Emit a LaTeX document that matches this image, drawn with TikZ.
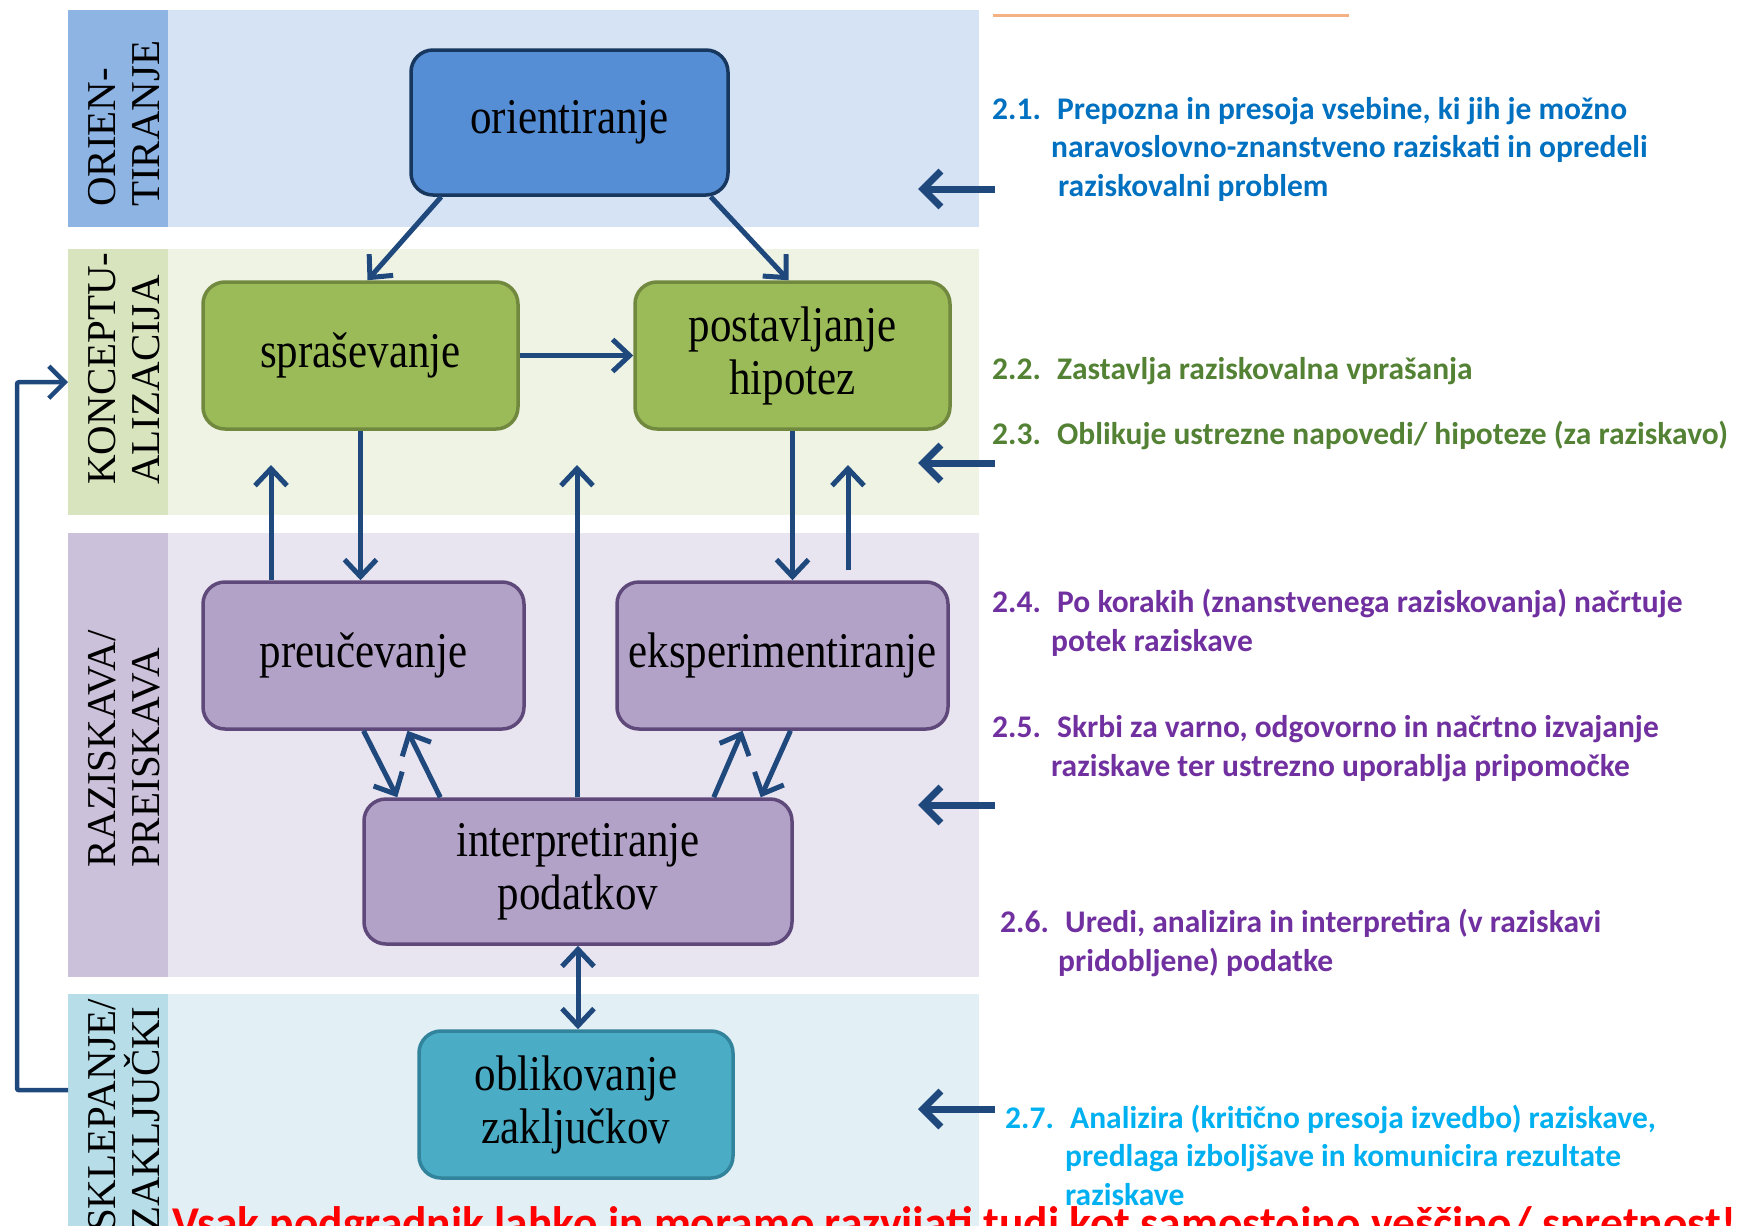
\documentclass[tikz,border=0pt]{standalone}
\usepackage{fontspec}
\setmainfont{Liberation Serif}
\newfontfamily\okvirfont[FakeStretch=0.86]{Liberation Serif}
\newfontfamily\ciljfont{Carlito}
\usetikzlibrary{arrows.meta,calc}

\definecolor{puscica}{HTML}{1F497D}
\definecolor{oriTrak}{HTML}{8EB4E3}
\definecolor{oriPas}{HTML}{D6E3F4}
\definecolor{konTrak}{HTML}{D7E4BD}
\definecolor{konPas}{HTML}{EEF3E4}
\definecolor{razTrak}{HTML}{CCC1DA}
\definecolor{razPas}{HTML}{E8E4F0}
\definecolor{sklTrak}{HTML}{B7DDE8}
\definecolor{sklPas}{HTML}{E2F0F5}
\definecolor{modraPolna}{HTML}{558ED5}
\definecolor{modraRob}{HTML}{17375E}
\definecolor{zelenaPolna}{HTML}{9BBB59}
\definecolor{zelenaRob}{HTML}{71893F}
\definecolor{vijolPolna}{HTML}{B3A2C7}
\definecolor{vijolRob}{HTML}{5F497A}
\definecolor{turkPolna}{HTML}{4BACC6}
\definecolor{turkRob}{HTML}{31849B}
\definecolor{cModra}{HTML}{0070C0}
\definecolor{cZelena}{HTML}{548235}
\definecolor{cVijol}{HTML}{7030A0}
\definecolor{cSvetla}{HTML}{00B0F0}
\definecolor{rdeca}{HTML}{FF0000}
\definecolor{oranzna}{HTML}{F4B183}

\tikzset{
  okvir/.style={draw, rounded corners=22pt, line width=3.5pt, align=center,
    inner sep=0pt, font=\okvirfont\fontsize{50}{53}\selectfont},
  modri/.style={fill=modraPolna, draw=modraRob},
  zeleni/.style={fill=zelenaPolna, draw=zelenaRob},
  vijolicni/.style={fill=vijolPolna, draw=vijolRob},
  turkizni/.style={fill=turkPolna, draw=turkRob},
  trak/.style={inner sep=0pt, minimum width=100pt, anchor=north west},
  oznaka/.style={rotate=90, anchor=base west, align=left, inner sep=0pt,
    font=\fontsize{41}{44}\selectfont},
  pot/.style={draw=puscica, line width=5pt,
    -{Straight Barb[length=17pt,width=32pt]}},
  vhod/.style={draw=puscica, line width=7pt,
    -{Straight Barb[length=18pt,width=36pt]}},
  povratna/.style={draw=puscica, line width=4.5pt, rounded corners=2pt,
    -{Straight Barb[length=16pt,width=32pt]}},
  cilj/.style={anchor=base west, align=left, inner sep=0pt,
    font=\ciljfont\bfseries\fontsize{31.5}{38.5}\selectfont},
}

\begin{document}
\begin{tikzpicture}[x=1pt,y=-1pt]
\useasboundingbox (0,0) rectangle (1743,1226);
\clip (0,0) rectangle (1743,1226);

% Pasovi
\fill[oriPas] (168,10) rectangle (979,227);
\fill[konPas] (168,249) rectangle (979,515);
\fill[razPas] (168,533) rectangle (979,977);
\fill[sklPas] (168,994) rectangle (979,1240);

% Trakovi
\node[trak, fill=oriTrak, minimum height=217pt] (trakOri) at (68,10) {};
\node[trak, fill=konTrak, minimum height=266pt] (trakKon) at (68,249) {};
\node[trak, fill=razTrak, minimum height=444pt] (trakRaz) at (68,533) {};
\node[trak, fill=sklTrak, minimum height=246pt] (trakSkl) at (68,994) {};

% Oznake faz (sidro na zadnji vrstici)
\node[oznaka] (lblOri) at (159,207) {ORIEN-\\TIRANJE};
\node[oznaka] (lblKon) at (159,485) {KONCEPTU-\\ALIZACIJA};
\node[oznaka] (lblRaz) at (159,868) {RAZISKAVA/\\PREISKAVA};
\node[oznaka] (lblSkl) at (159,1232) {SKLEPANJE/\\ZAKLJUČKI};

% Zgornja crta
\draw[oranzna, line width=3pt] (993,15) -- (1349,15);

% Koraki
\node[okvir, modri, minimum width=317pt, minimum height=145pt]
  (orient) at (569.5,122.5) {orientiranje};
\node[okvir, zeleni, minimum width=315pt, minimum height=147pt]
  (spras) at (360.5,355.5) {spraševanje};
\node[okvir, zeleni, minimum width=315pt, minimum height=147pt]
  (post) at (792.5,355.5) {postavljanje\\hipotez};
\node[okvir, vijolicni, minimum width=321pt, minimum height=147pt]
  (preuc) at (363.5,655.5) {preučevanje};
\node[okvir, vijolicni, minimum width=331pt, minimum height=147pt]
  (eksper) at (782.5,655.5) {eksperimentiranje};
\node[okvir, vijolicni, minimum width=428pt, minimum height=145pt]
  (interp) at (578,871.5) {interpretiranje\\podatkov};
\node[okvir, turkizni, minimum width=314pt, minimum height=147pt]
  (oblik) at (576,1104.5) {oblikovanje\\zaključkov};

% Povezave
\draw[pot] ($(orient.south west)+(32,0)$) -- ($(spras.north)+(7,0)$);
\draw[pot] ($(orient.south east)+(-19,0)$) -- ($(post.north)+(-4,0)$);
\draw[pot] (spras.east) -- (post.west);
\draw[pot] (spras.south) -- (spras.south |- preuc.north);
\draw[pot] (post.south) -- (post.south |- eksper.north);
\draw[pot] (preuc.south) -- ($(interp.north west)+(35,0)$);
\draw[pot] ($(interp.north west)+(78,0)$) -- ($(preuc.south)+(44,0)$);
\draw[pot] ($(interp.north east)+(-80,0)$) -- ($(eksper.south)+(-40,0)$);
\draw[pot] ($(eksper.south)+(8,0)$) -- ($(interp.north east)+(-33,0)$);
\draw[pot, {Straight Barb[length=17pt,width=32pt]}-{Straight Barb[length=17pt,width=32pt]}]
  (interp.south) -- (interp.south |- oblik.north);

% Puscice navzgor
\coordinate (gorA) at (271,465);
\coordinate (gorB) at (577,465);
\coordinate (gorC) at (848,465);
\draw[pot] (gorA |- preuc.north) -- (gorA);
\draw[pot] (gorB |- interp.north) -- (gorB);
\draw[pot] ([yshift=10pt]eksper.north -| gorC) -- (gorC);

% Povratna zanka
\draw[povratna] ([yshift=27pt]trakSkl.west) -- ++(-51,0) |- (trakKon.west);

% Cilji (sidro na zadnji vrstici)
\node[cilj, text=cModra] (c21) at (992,196)
  {\makebox[65pt][l]{2.1.}Prepozna in presoja vsebine, ki jih je možno\\
   \hspace*{59pt}naravoslovno-znanstveno raziskati in opredeli\\
   \hspace*{66pt}raziskovalni problem};
\node[cilj, text=cZelena] (c22) at (992,379)
  {\makebox[65pt][l]{2.2.}Zastavlja raziskovalna vprašanja};
\node[cilj, text=cZelena] (c23) at (992,444)
  {\makebox[65pt][l]{2.3.}Oblikuje ustrezne napovedi/ hipoteze (za raziskavo)};
\node[cilj, text=cVijol] (c24) at (992,651)
  {\makebox[65pt][l]{2.4.}Po korakih (znanstvenega raziskovanja) načrtuje\\
   \hspace*{59pt}potek raziskave};
\node[cilj, text=cVijol] (c25) at (992,776)
  {\makebox[65pt][l]{2.5.}Skrbi za varno, odgovorno in načrtno izvajanje\\
   \hspace*{59pt}raziskave ter ustrezno uporablja pripomočke};
\node[cilj, text=cVijol] (c26) at (1000,971)
  {\makebox[65pt][l]{2.6.}Uredi, analizira in interpretira (v raziskavi\\
   \hspace*{58pt}pridobljene) podatke};
\node[cilj, text=cSvetla] (c27) at (1005,1205)
  {\makebox[65pt][l]{2.7.}Analizira (kritično presoja izvedbo) raziskave,\\
   \hspace*{60pt}predlaga izboljšave in komunicira rezultate\\
   \hspace*{60pt}raziskave};

% Puscice k fazam
\foreach \yy [count=\i] in {189,463,805,1109}{
  \coordinate (od\i) at (995,\yy);
  \coordinate (do\i) at (918,\yy);
  \draw[vhod] (od\i) -- (do\i);
}

% Opomba
\node[anchor=base west, inner sep=0pt, text=rdeca,
  font=\ciljfont\bfseries\fontsize{45.5}{48}\selectfont] (opomba) at (172,1238)
  {Vsak podgradnik lahko in moramo razvijati tudi kot samostojno veščino/ spretnost!};

\end{tikzpicture}
\end{document}
